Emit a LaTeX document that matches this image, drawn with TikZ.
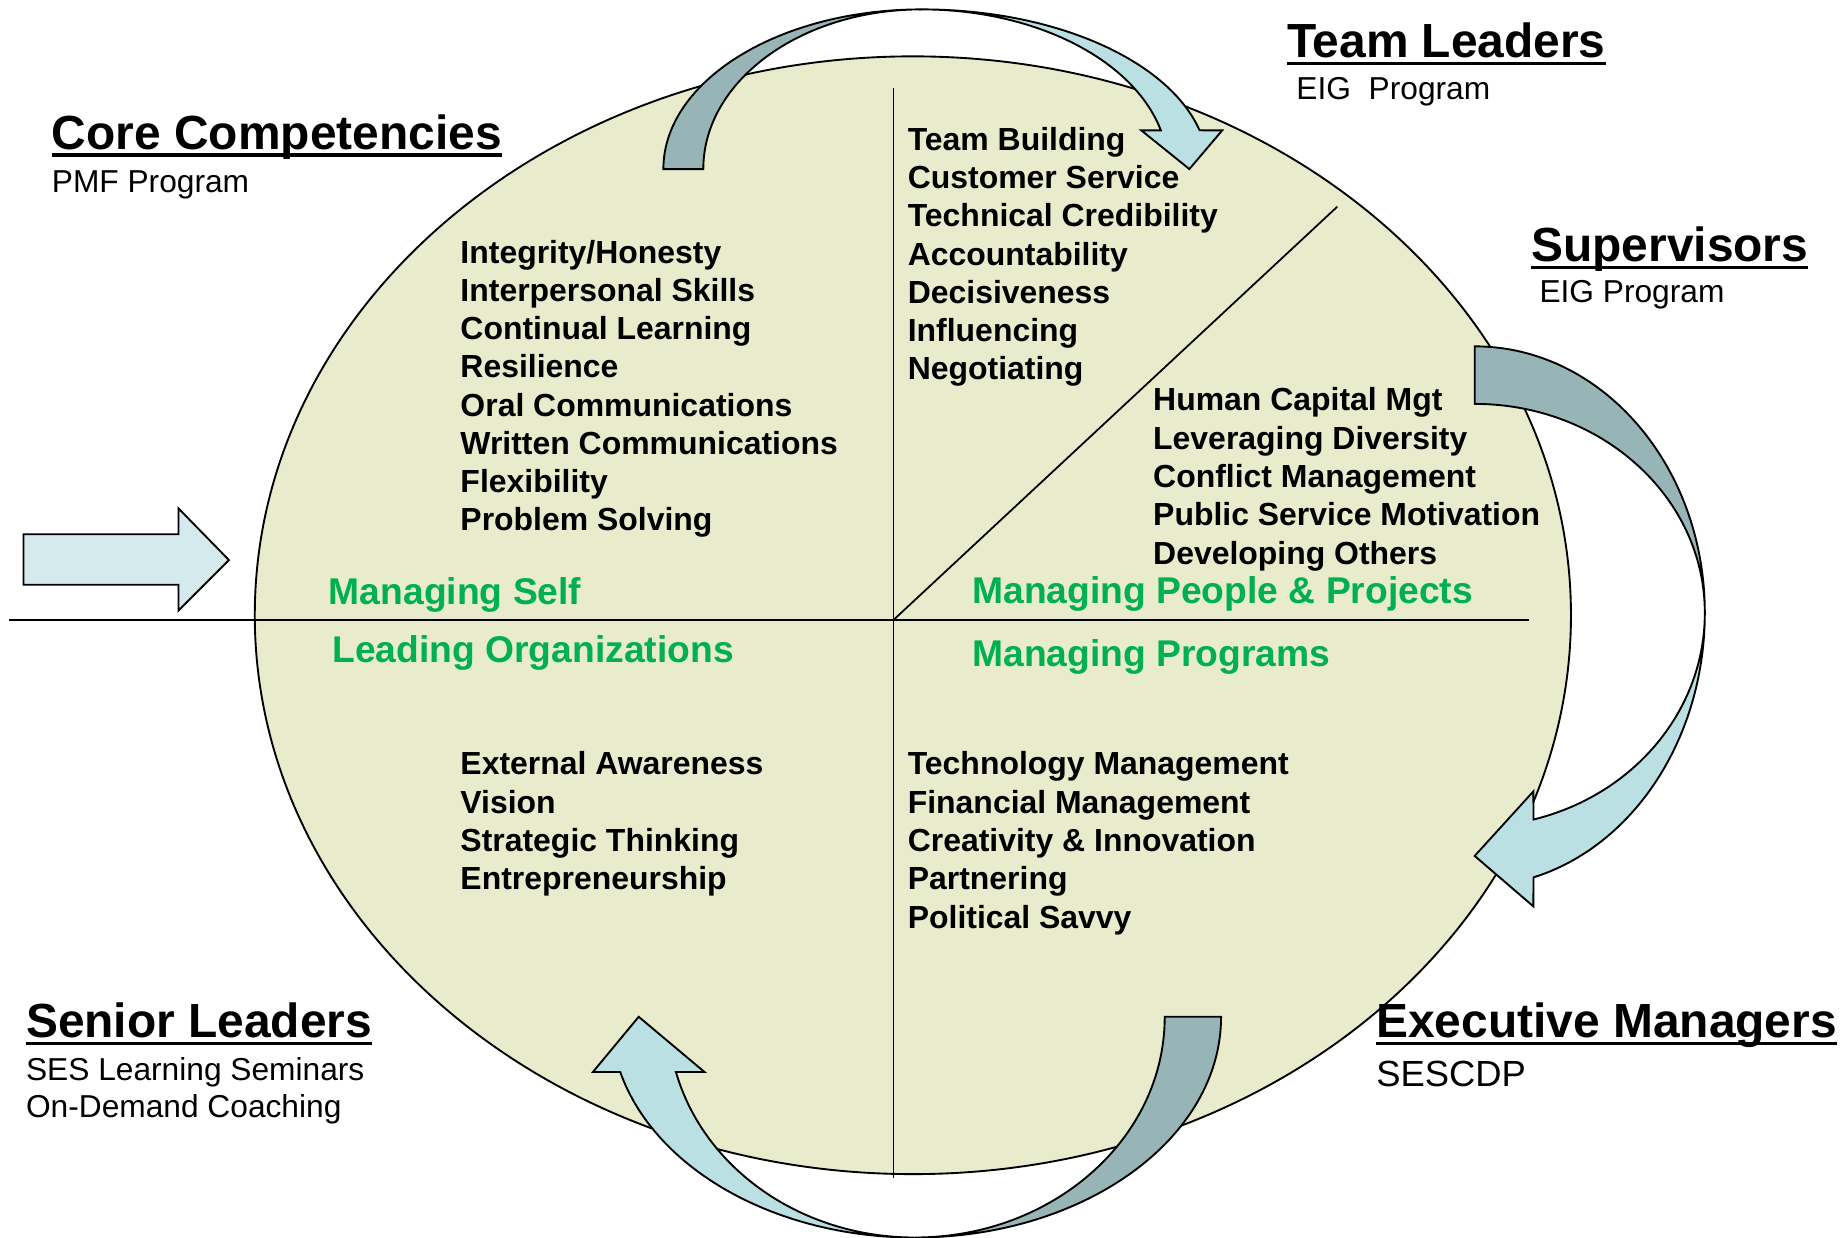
\documentclass[tikz,border=0pt]{standalone}
\usepackage{fontspec}
\setmainfont{Liberation Sans}
\definecolor{ellfill}{RGB}{232,236,204}
\definecolor{darkteal}{RGB}{151,180,183}
\definecolor{lightteal}{RGB}{186,224,228}
\definecolor{paleblue}{RGB}{212,234,237}
\definecolor{mygreen}{RGB}{0,176,80}
\begin{document}
\begin{tikzpicture}[x=1pt,y=-1pt,
  arrowshape/.style={draw=black, line width=1.6pt, line join=miter},
  comp/.style={anchor=base west, inner sep=0pt, font=\fontsize{27.2}{31}\selectfont\bfseries},
  ttl/.style={anchor=base west, inner sep=0pt, font=\fontsize{40.8}{46}\selectfont\bfseries},
  subt/.style={anchor=base west, inner sep=0pt, font=\fontsize{27}{31}\selectfont},
  grn/.style={anchor=base west, inner sep=0pt, text=mygreen, font=\fontsize{31.7}{36}\selectfont\bfseries},
  uline/.style={line width=2.6pt},
  divline/.style={line width=1.5pt}]
\useasboundingbox (0,0) rectangle (1568,1054);
\fill[white] (0,0) rectangle (1568,1054);

% ellipse and dividing lines
\draw[line width=1.6pt, fill=ellfill] (777.5,524) ellipse [x radius=560.5, y radius=476];
\coordinate (vtop) at (761,75);
\coordinate (vbot) at (761,1003);
\coordinate (hl) at (8,528);
\coordinate (hr) at (1302,528);
\coordinate (ctr) at (761,528);
\coordinate (dg) at (1139,176);
\draw[divline] (vtop) -- (vbot);
\draw[divline] (hl) -- (hr);
\draw[divline] (ctr) -- (dg);

% left straight arrow
\draw[arrowshape, fill=paleblue] (20,455) -- (152,455) -- (152,433) -- (195,477) -- (152,520) -- (152,498) -- (20,498) -- cycle;

% top curved arrow
\draw[arrowshape, fill=darkteal] (565,144) arc[start angle=180, end angle=270, x radius=220, y radius=136]
  arc[start angle=270, end angle=180, x radius=186, y radius=136] -- cycle;
\draw[arrowshape, fill=lightteal] (785,8) arc[start angle=270, end angle=345.95, x radius=244, y radius=136]
  -- (1041,111) -- (1013,144) -- (972,111) -- (988.7,111)
  arc[start angle=345.95, end angle=270, x radius=210, y radius=136] -- cycle;

% right curved arrow
\draw[arrowshape, fill=darkteal] (1256,295) arc[start angle=270, end angle=360, x radius=196, y radius=227]
  arc[start angle=0, end angle=-90, x radius=196, y radius=178] -- cycle;
\draw[arrowshape, fill=lightteal] (1452,522) arc[start angle=0, end angle=75.2, x radius=196, y radius=233]
  -- (1306,772) -- (1256,729) -- (1306,674) -- (1306.07,698)
  arc[start angle=75.2, end angle=0, x radius=196, y radius=182] -- cycle;

% bottom curved arrow
\draw[arrowshape, fill=darkteal] (1040,866) arc[start angle=0, end angle=90, x radius=261, y radius=188]
  arc[start angle=90, end angle=0, x radius=213, y radius=188] -- cycle;
\draw[arrowshape, fill=lightteal] (779,1054) arc[start angle=90, end angle=165.52, x radius=259, y radius=188]
  -- (505,913) -- (544,866) -- (600,913) -- (575.7,913)
  arc[start angle=165.52, end angle=90, x radius=210, y radius=188] -- cycle;

% titles
\node[ttl] (cc) at (44,127) {Core Competencies};
\draw[uline] ([yshift=-5pt]cc.base west) -- ([yshift=-5pt]cc.base east);
\node[subt] (ccs) at (44,164) {PMF Program};

\node[ttl] (tl) at (1096,49) {Team Leaders};
\draw[uline] ([yshift=-5pt]tl.base west) -- ([yshift=-5pt]tl.base east);
\node[subt] (tls) at (1104,85) {EIG\ \ Program};

\node[ttl] (sv) at (1304,223) {Supervisors};
\draw[uline] ([yshift=-5pt]sv.base west) -- ([yshift=-5pt]sv.base east);
\node[subt] (svs) at (1311,258) {EIG Program};

\node[ttl] (sl) at (22,884) {Senior Leaders};
\draw[uline] ([yshift=-5pt]sl.base west) -- ([yshift=-5pt]sl.base east);
\node[subt] (sls1) at (22,920) {SES Learning Seminars};
\node[subt] (sls2) at (22,952) {On-Demand Coaching};

\node[ttl] (em) at (1172,884) {Executive Managers};
\draw[uline] ([yshift=-5pt]em.base west) -- ([yshift=-5pt]em.base east);
\node[subt, font=\fontsize{31}{35}\selectfont] (ems) at (1172,925) {SESCDP};

% green quadrant labels
\node[grn] (gms) at (280,515) {Managing Self};
\node[grn] (glo) at (283,564) {Leading Organizations};
\node[grn] (gmp) at (828,514) {Managing People \& Projects};
\node[grn] (gpr) at (828,568) {Managing Programs};

% top-left list
\node[comp] (a1) at (392,224) {Integrity/Honesty};
\node[comp] (a2) at (392,256.6) {Interpersonal Skills};
\node[comp] (a3) at (392,289.2) {Continual Learning};
\node[comp] (a4) at (392,321.8) {Resilience};
\node[comp] (a5) at (392,354.4) {Oral Communications};
\node[comp] (a6) at (392,387) {Written Communications};
\node[comp] (a7) at (392,419.6) {Flexibility};
\node[comp] (a8) at (392,452.2) {Problem Solving};

% top-right list
\node[comp] (b1) at (773,128) {Team Building};
\node[comp] (b2) at (773,160.6) {Customer Service};
\node[comp] (b3) at (773,193.2) {Technical Credibility};
\node[comp] (b4) at (773,225.8) {Accountability};
\node[comp] (b5) at (773,258.4) {Decisiveness};
\node[comp] (b6) at (773,291) {Influencing};
\node[comp] (b7) at (773,323.6) {Negotiating};

% right list
\node[comp] (c1) at (982,350) {Human Capital Mgt};
\node[comp] (c2) at (982,382.6) {Leveraging Diversity};
\node[comp] (c3) at (982,415.2) {Conflict Management};
\node[comp] (c4) at (982,447.8) {Public Service Motivation};
\node[comp] (c5) at (982,480.4) {Developing Others};

% bottom-left list
\node[comp] (d1) at (392,660) {External Awareness};
\node[comp] (d2) at (392,692.6) {Vision};
\node[comp] (d3) at (392,725.2) {Strategic Thinking};
\node[comp] (d4) at (392,757.8) {Entrepreneurship};

% bottom-right list
\node[comp] (e1) at (773,660) {Technology Management};
\node[comp] (e2) at (773,692.6) {Financial Management};
\node[comp] (e3) at (773,725.2) {Creativity \& Innovation};
\node[comp] (e4) at (773,757.8) {Partnering};
\node[comp] (e5) at (773,790.4) {Political Savvy};
\end{tikzpicture}
\end{document}
